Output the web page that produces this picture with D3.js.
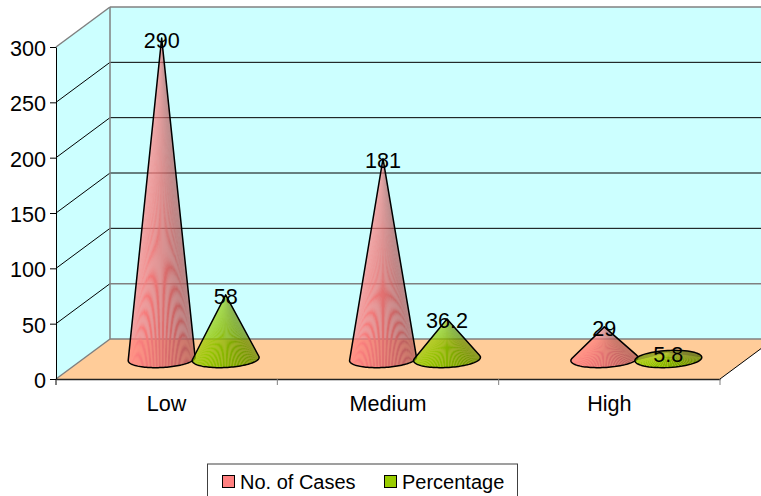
<!DOCTYPE html>
<html>
<head>
<meta charset="utf-8">
<script src="https://cdn.jsdelivr.net/npm/d3@7"></script>
<style>
  html, body { margin: 0; padding: 0; background: #fff; overflow: hidden; }
  svg { display: block; }
  text { font-family: "Liberation Sans", Arial, sans-serif; fill: #000; }
</style>
</head>
<body>
<div id="chart"></div>
<script>
const categories = ["Low", "Medium", "High"];
const seriesNames = ["No. of Cases", "Percentage"];
const cases = [290, 181, 29];
const percentage = [58, 36.2, 5.8];
const yTicks = [0, 50, 100, 150, 200, 250, 300];

const width = 761, height = 496;
const plot = { left: 56, right: 720, top: 47, bottom: 379 };
const depth = { x: 54, y: -40 };   // offset of the back wall from the front
const fontSize = 21.6;

const svg = d3.select("#chart").append("svg")
    .attr("width", width)
    .attr("height", height);

const y = d3.scaleLinear().domain([0, 300]).range([plot.bottom, plot.top]);
const x = d3.scaleBand().domain(categories).range([plot.left, plot.right]);
const sub = d3.scalePoint().domain(seriesNames).range([-32, 32]);
const color = d3.scaleOrdinal().domain(seriesNames).range(["#ff8080", "#99cc00"]);

const polyPath = pts => "M" + pts.map(p => p.join(",")).join("L") + "Z";
const back = (px, py) => [px + depth.x, py + depth.y];

// Walls and floor
const x0 = plot.left, x1 = plot.right, yB = y(0), yT = y(300);
const walls = svg.append("g");
walls.append("path")
    .attr("d", polyPath([[x0, yT], back(x0, yT), back(x0, yB), [x0, yB]]))
    .attr("fill", "#ccffff");
walls.append("path")
    .attr("d", polyPath([back(x0, yT), back(x1, yT), back(x1, yB), back(x0, yB)]))
    .attr("fill", "#ccffff");
walls.append("path")
    .attr("d", polyPath([[x0, yB], back(x0, yB), back(x1, yB), [x1, yB]]))
    .attr("fill", "#ffcc99");

// Gridlines on side and back wall
yTicks.filter(d => d > 0 && d < 300).forEach(d => {
    const [bx, by] = back(x0, y(d));
    const [ex] = back(x1, y(d));
    walls.append("line").attr("x1", x0).attr("y1", y(d)).attr("x2", bx).attr("y2", by)
        .attr("stroke", "#000").attr("stroke-width", 1);
    walls.append("line").attr("x1", bx).attr("y1", by).attr("x2", ex).attr("y2", by)
        .attr("stroke", d === 50 ? "#808080" : "#000").attr("stroke-width", d === 50 ? 1.5 : 1);
});

// Grey frame of the walls
const frame = [
    [[x0, yT], back(x0, yT)],
    [back(x0, yT), back(x1, yT)],
    [back(x0, yT), back(x0, yB)],
    [back(x0, yB), back(x1, yB)],
    [[x0, yB], back(x0, yB)]
];
frame.forEach(([a, b]) => {
    walls.append("line").attr("x1", a[0]).attr("y1", a[1]).attr("x2", b[0]).attr("y2", b[1])
        .attr("stroke", "#808080").attr("stroke-width", 1.5);
});
walls.append("line").attr("x1", x1).attr("y1", yB)
    .attr("x2", back(x1, yB)[0]).attr("y2", back(x1, yB)[1])
    .attr("stroke", "#000");

// Axes
const yAxisG = svg.append("g")
    .attr("transform", `translate(${x0},0)`)
    .call(d3.axisLeft(y).tickValues(yTicks).tickSize(6).tickSizeOuter(0).tickPadding(4));
const xAxisG = svg.append("g")
    .attr("transform", `translate(0,${yB})`)
    .call(d3.axisBottom(x).tickSize(0).tickPadding(17));
[yAxisG, xAxisG].forEach(g => {
    g.selectAll("text").attr("font-size", fontSize).attr("font-family", null);
    g.attr("font-family", null).attr("font-size", null);
});
yAxisG.selectAll("text").attr("dy", "0.4em");
xAxisG.select(".domain").attr("stroke-width", 1.5).attr("stroke", "#222");

// Category tick marks sit on the band edges
xAxisG.selectAll(".edge")
    .data(categories.concat("end"))
    .enter().append("line")
    .attr("class", "edge")
    .attr("x1", d => d === "end" ? x1 : x(d))
    .attr("x2", d => d === "end" ? x1 : x(d))
    .attr("y1", 0).attr("y2", 6)
    .attr("stroke", (d, i) => i === 0 ? "#000" : "#808080");

// Cones
const rx = 33.5, ry = 8.5, tilt = -3 * Math.PI / 180;
const baseY = yB + depth.y / 2;
const cosT = Math.cos(tilt), sinT = Math.sin(tilt);

function conePoint(cx, a) {
    const ex = rx * Math.cos(a), ey = ry * Math.sin(a);
    return [cx + ex * cosT - ey * sinT, baseY + ex * sinT + ey * cosT];
}

function drawCone(g, name, cx, value) {
    const apex = [cx, y(value) + depth.y / 2];
    // apex in the ellipse's unit-circle space, to find the silhouette tangents
    const dx = apex[0] - cx, dy = apex[1] - baseY;
    const px = (dx * cosT + dy * sinT) / rx, py = (-dx * sinT + dy * cosT) / ry;
    const dist = Math.hypot(px, py);
    const inside = dist <= 1;
    const theta = Math.atan2(py, px);
    const half = inside ? 0 : Math.acos(1 / dist);
    const a0 = inside ? 0 : theta + half;
    const a1 = inside ? 2 * Math.PI : theta + 2 * Math.PI - half;

    const base = d3.color(color(name));
    const steps = d3.range(0, 70);
    const da = (a1 - a0) / steps.length;
    // thin wedges from the tip, the seams between them give the banding
    g.append("g").selectAll("path")
        .data(steps)
        .enter().append("path")
        .attr("d", i => {
            const p = conePoint(cx, a0 + i * da), q = conePoint(cx, a0 + (i + 1) * da);
            return polyPath([apex, p, q]);
        })
        .attr("fill", i => {
            const a = a0 + (i + 0.5) * da;
            const lit = 1 - 0.32 * Math.pow((1 + Math.cos(a)) / 2, 1.4);
            const rear = Math.sin(a) < 0 ? 0.72 : 1;
            return base.copy({
                r: base.r * lit * rear, g: base.g * lit * rear, b: base.b * lit * rear
            }).formatRgb();
        });

    const arc = d3.range(0, 61).map(i => conePoint(cx, a0 + (a1 - a0) * i / 60));
    const outline = inside ? arc : [apex].concat(arc);
    g.append("path")
        .attr("d", polyPath(outline))
        .attr("fill", "none")
        .attr("stroke", "#000")
        .attr("stroke-width", 1.5)
        .attr("stroke-linejoin", "round");
}

const seriesValues = [cases, percentage];
const coneG = svg.append("g");
const labels = [];
categories.forEach((c, i) => {
    seriesNames.forEach((s, j) => {
        const cx = x(c) + x.bandwidth() / 2 + depth.x / 2 + sub(s);
        drawCone(coneG, s, cx, seriesValues[j][i]);
        labels.push({ cx, value: seriesValues[j][i] });
    });
});

svg.append("g").selectAll("text")
    .data(labels)
    .enter().append("text")
    .attr("x", d => d.cx)
    .attr("y", d => y(d.value) + depth.y / 2 + 9.5)
    .attr("text-anchor", "middle")
    .attr("font-size", fontSize)
    .text(d => d.value);

// Legend
const legend = svg.append("g");
legend.append("rect")
    .attr("x", 207.5).attr("y", 464).attr("width", 310).attr("height", 40)
    .attr("fill", "#fff").attr("stroke", "#404040").attr("stroke-width", 1);
const legendX = [222, 384];
seriesNames.forEach((s, i) => {
    legend.append("rect")
        .attr("x", legendX[i] + 0.5).attr("y", 475.5).attr("width", 12).attr("height", 12)
        .attr("fill", color(s)).attr("stroke", "#000").attr("stroke-width", 1);
    legend.append("text")
        .attr("x", legendX[i] + 18).attr("y", 489)
        .attr("font-size", 20)
        .text(s);
});
</script>
</body>
</html>
